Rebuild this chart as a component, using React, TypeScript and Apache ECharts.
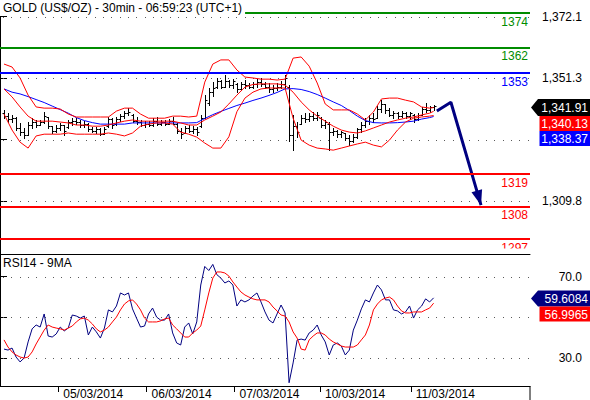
import React, { useEffect, useRef } from 'react';
import * as echarts from 'echarts';

const FONT = "'Liberation Sans', Arial, Helvetica, sans-serif";

const titleText = 'GOLD (US$/OZ) - 30min - 06:59:23 (UTC+1)';
const rsiTitle = 'RSI14 - 9MA';

// OHLC bars (bar index 1..108)
const opens = [
  1339.5, 1338.5, 1337.5, 1338, 1334.5, 1333, 1332, 1335.5, 1336.5, 1335.5,
  1336.5, 1338.2, 1335, 1333.5, 1334.5, 1335.5, 1334.8, 1336.5, 1337, 1336.5,
  1335.5, 1336, 1334, 1333.5, 1334, 1332.5, 1335, 1337.5, 1335.8, 1337.5,
  1338.5, 1339.5, 1339, 1337, 1336.5, 1335.5, 1336, 1335.5, 1337, 1336,
  1336.5, 1336, 1337, 1336, 1333.5, 1332.8, 1334.5, 1333.5, 1334, 1335,
  1338, 1343, 1346.5, 1348.5, 1350.5, 1348.5, 1350.5, 1349, 1349.5, 1347.5,
  1349.5, 1349, 1348.5, 1349.5, 1350, 1349.5, 1348.5, 1347.5, 1348, 1348.5,
  1349.5, 1348.5, 1332, 1335, 1336, 1338, 1337.5, 1338.5, 1338, 1338,
  1335.5, 1336, 1333, 1333.5, 1332.5, 1332.8, 1331, 1330, 1331.5, 1334,
  1335.5, 1337, 1338, 1338, 1341, 1342.5, 1340.5, 1339, 1339.5, 1338.5,
  1339.5, 1338.5, 1339, 1337.5, 1339, 1341, 1340.5, 1341.5,
];
const closes = [
  1338.5, 1337.5, 1338, 1334.5, 1333, 1332, 1335.5, 1336.5, 1335.5, 1336.5,
  1338.5, 1335, 1333.5, 1334.5, 1335.5, 1333.5, 1336.5, 1337, 1336.5, 1335.5,
  1336, 1334, 1333.5, 1334, 1332.5, 1334, 1337.5, 1335.5, 1337.5, 1338.5,
  1339.5, 1340, 1337, 1336.5, 1335.5, 1336, 1335.5, 1337, 1336, 1336.5,
  1336, 1337, 1336, 1333.5, 1332.5, 1334.5, 1333.5, 1334, 1333, 1338,
  1344, 1346.5, 1348, 1350.5, 1348.5, 1350.5, 1349, 1350.5, 1347.5, 1349.5,
  1349, 1348.5, 1349.5, 1350, 1349.5, 1348.5, 1347.5, 1348, 1348.5, 1349.5,
  1351.5, 1332, 1335, 1333, 1338, 1337.5, 1338.5, 1338, 1339, 1335.5,
  1336.5, 1333, 1333.5, 1332.5, 1333, 1331, 1330, 1331.5, 1334, 1335.5,
  1337, 1338, 1337.5, 1341, 1342.5, 1340.5, 1339, 1339.5, 1338.5, 1339.5,
  1338.5, 1339.5, 1337.5, 1339, 1341, 1340.5, 1341.5, 1341.91,
];
const lows = [
  1337.8, 1336.5, 1336.5, 1333.8, 1332.1, 1331.1, 1332.1, 1334.5, 1334.8, 1335.5,
  1336.2, 1334.5, 1332.8, 1333.1, 1333.8, 1332.1, 1334.5, 1335.5, 1335.8, 1334.8,
  1334.8, 1333.5, 1333.1, 1332.8, 1332.1, 1332.4, 1334.8, 1334.5, 1335.5, 1336.8,
  1337.8, 1338.9, 1336.5, 1335.8, 1335.1, 1334.8, 1335.1, 1335.1, 1335.5, 1335.5,
  1335.5, 1335.8, 1335.8, 1332.8, 1331.1, 1332.8, 1333.1, 1332.8, 1332.1, 1334.8,
  1337.8, 1342.2, 1345.3, 1348.0, 1348.0, 1348.3, 1348.3, 1348.0, 1346.6, 1347.3,
  1348.0, 1348.0, 1348.0, 1348.3, 1348.7, 1348.0, 1346.6, 1346.6, 1347.3, 1348.0,
  1348.0, 1330.0, 1327.0, 1331.4, 1335.8, 1336.5, 1336.8, 1337.2, 1337.2, 1334.8,
  1334.5, 1327.0, 1332.1, 1331.4, 1331.4, 1330.4, 1328.7, 1329.7, 1331.1, 1333.1,
  1334.8, 1335.8, 1336.5, 1337.8, 1339.9, 1339.5, 1338.5, 1337.8, 1337.8, 1338.2,
  1337.8, 1337.5, 1336.5, 1337.2, 1338.9, 1339.9, 1339.9, 1340.6,
];
const highs = [
  1340.6, 1339.5, 1338.9, 1338.2, 1336.2, 1334.5, 1336.5, 1337.8, 1337.2, 1337.2,
  1339.9, 1338.2, 1335.1, 1335.5, 1336.2, 1335.5, 1337.2, 1337.8, 1337.8, 1337.2,
  1336.8, 1336.2, 1334.8, 1334.8, 1334.5, 1334.8, 1338.2, 1337.8, 1338.2, 1339.2,
  1340.2, 1341.2, 1339.2, 1338.2, 1337.2, 1336.8, 1336.8, 1337.8, 1338.2, 1337.2,
  1337.2, 1337.5, 1338.2, 1336.2, 1334.5, 1335.1, 1335.5, 1335.1, 1334.8, 1338.9,
  1345.6, 1348.0, 1350.0, 1351.4, 1350.7, 1352.4, 1350.7, 1351.0, 1349.7, 1350.0,
  1350.7, 1349.7, 1350.0, 1351.0, 1351.4, 1350.0, 1349.7, 1349.0, 1349.7, 1350.4,
  1352.4, 1349.0, 1338.9, 1336.5, 1338.9, 1339.5, 1339.5, 1339.9, 1339.9, 1338.2,
  1337.2, 1336.5, 1334.5, 1333.8, 1333.5, 1332.8, 1332.1, 1332.4, 1334.5, 1336.5,
  1337.8, 1338.9, 1339.5, 1341.9, 1343.9, 1342.6, 1341.2, 1340.2, 1339.9, 1340.2,
  1339.9, 1339.9, 1339.2, 1339.5, 1341.6, 1342.9, 1341.9, 1342.2,
];

// Overlays sampled every 2 bars (1,3,...,107) plus the last bar (108)
const bbUpper = [
  1356.1, 1355.1, 1351.4, 1345.6, 1341.6, 1341.2, 1341.2, 1340.9, 1339.2, 1338.2,
  1338.2, 1338.2, 1338.2, 1338.2, 1340.2, 1341.2, 1341.2, 1339.2, 1337.8, 1337.8,
  1337.8, 1338.5, 1338.5, 1338.2, 1338.5, 1350.0, 1356.1, 1357.5, 1357.5, 1354.1,
  1351.7, 1351.4, 1351.0, 1351.0, 1350.7, 1351.0, 1358.1, 1358.5, 1355.4, 1349.7,
  1342.6, 1340.6, 1340.6, 1340.6, 1339.2, 1337.2, 1339.9, 1344.3, 1344.6, 1344.6,
  1343.9, 1343.3, 1341.6, 1341.2, 1341.4,
];
const bbMiddle = [
  1347.7, 1345.0, 1341.6, 1338.5, 1336.8, 1336.8, 1336.8, 1336.5, 1336.2, 1335.5,
  1335.5, 1335.1, 1335.1, 1335.5, 1336.2, 1336.8, 1337.2, 1336.8, 1336.8, 1336.8,
  1336.8, 1336.8, 1336.2, 1335.5, 1335.5, 1337.2, 1338.5, 1339.9, 1342.6, 1345.6,
  1348.3, 1349.2, 1349.4, 1349.4, 1349.4, 1349.0, 1346.6, 1343.3, 1340.6, 1338.5,
  1336.8, 1335.1, 1333.8, 1333.1, 1332.8, 1333.5, 1334.5, 1335.5, 1336.5, 1337.2,
  1337.8, 1338.2, 1338.9, 1339.5, 1340.13,
];
const bbLower = [
  1339.2, 1333.8, 1329.7, 1327.7, 1331.8, 1332.4, 1332.4, 1332.4, 1332.8, 1332.4,
  1332.4, 1332.4, 1332.4, 1332.8, 1332.4, 1331.8, 1332.8, 1335.1, 1335.8, 1336.2,
  1336.2, 1335.8, 1333.1, 1332.4, 1331.4, 1329.4, 1327.7, 1327.7, 1331.5, 1340.0,
  1344.6, 1346.6, 1347.7, 1348.0, 1348.0, 1348.0, 1337.8, 1330.4, 1328.7, 1327.7,
  1327.4, 1327.0, 1327.7, 1328.4, 1329.1, 1329.7, 1328.7, 1328.1, 1330.4, 1333.8,
  1336.5, 1337.8, 1338.2, 1338.5, 1338.7,
];
const maBlue = [
  1347.7, 1346.6, 1346.0, 1345.1, 1344.1, 1343.1, 1341.9, 1340.7, 1339.5, 1338.0,
  1337.0, 1336.3, 1335.8, 1335.8, 1335.8, 1335.8, 1336.2, 1336.2, 1336.2, 1336.2,
  1336.2, 1336.2, 1336.2, 1336.2, 1336.3, 1337.7, 1339.0, 1340.1, 1341.1, 1342.1,
  1342.9, 1343.8, 1344.6, 1345.5, 1346.5, 1347.7, 1347.8, 1347.5, 1346.8, 1345.8,
  1344.6, 1343.3, 1342.1, 1340.4, 1338.5, 1337.0, 1336.3, 1336.2, 1336.2, 1336.3,
  1336.5, 1336.8, 1337.5, 1338.0, 1338.37,
];

// RSI(14) and its 9-period MA, one value per bar
const rsi = [
  34.5, 34.0, 35.0, 30.6, 28.2, 30.1, 38.0, 44.4, 46.3, 45.3,
  51.7, 40.9, 40.4, 41.9, 45.3, 43.4, 44.8, 51.2, 50.7, 49.7,
  50.7, 41.4, 45.3, 42.9, 39.9, 44.8, 53.7, 52.7, 55.6, 62.0,
  61.0, 62.0, 54.2, 49.7, 45.3, 45.8, 51.7, 54.6, 50.2, 48.7,
  48.7, 51.7, 42.4, 37.5, 36.5, 45.3, 47.3, 41.9, 47.8, 65.9,
  75.0, 73.0, 76.0, 71.0, 69.3, 66.9, 67.9, 65.9, 55.6, 58.6,
  57.6, 58.6, 60.5, 62.0, 57.6, 52.7, 48.7, 47.3, 51.7, 56.1,
  52.2, 18.0, 27.7, 38.9, 39.4, 38.9, 42.4, 43.8, 46.3, 41.4,
  38.0, 31.6, 36.5, 37.5, 36.0, 31.6, 34.0, 43.8, 48.7, 54.2,
  58.6, 57.6, 62.0, 65.9, 63.5, 58.6, 58.6, 53.7, 53.2, 51.7,
  52.7, 55.6, 49.7, 53.7, 55.6, 59.1, 57.6, 59.6084,
];
const rsiMa = [
  39.0, 35.5, 33.1, 31.6, 30.6, 30.1, 30.6, 33.1, 37.0, 40.4,
  43.8, 46.3, 45.3, 44.8, 44.4, 43.8, 44.8, 45.8, 47.8, 49.3,
  49.7, 48.7, 46.8, 44.4, 42.9, 43.8, 45.3, 47.8, 50.2, 53.7,
  56.6, 58.1, 58.6, 56.6, 53.7, 49.7, 47.8, 47.8, 47.8, 48.3,
  49.3, 49.7, 46.3, 44.4, 42.4, 40.4, 40.4, 42.4, 43.8, 45.8,
  53.7, 62.0, 69.3, 72.3, 72.3, 71.8, 70.3, 67.4, 64.9, 62.5,
  61.0, 60.0, 59.1, 58.6, 58.6, 58.6, 57.6, 55.1, 53.2, 51.2,
  50.7, 47.8, 42.9, 39.9, 34.5, 34.0, 39.0, 40.9, 42.4, 42.4,
  41.4, 39.4, 38.0, 37.0, 36.0, 35.5, 35.5, 35.5, 36.5, 39.0,
  41.4, 46.3, 53.7, 56.6, 58.6, 59.5, 60.0, 58.6, 55.6, 53.2,
  52.2, 52.2, 52.7, 52.7, 52.7, 53.7, 54.6, 56.9965,
];

// Axis ticks / labels
const dayStarts = [14.5, 36.5, 58.4, 79.7, 102.3];
const dayLabels = ['05/03/2014', '06/03/2014', '07/03/2014', '10/03/2014', '11/03/2014'];
const priceTicks = [1372.1, 1351.3, 1330.55, 1309.8];
const priceLabels = [1372.1, 1351.3, 1309.8];
const rsiTicks = [70, 50, 30];
const rsiLabels = [70, 30];

// Support / resistance levels
const levels = [1373.5, 1361.7, 1353, 1319, 1308, 1297];
const levelLabels = ['1374', '1362', '1353', '1319', '1308', '1297'];
const levelKinds = ['g', 'g', 'b', 'r', 'r', 'r'];

// Projection arrow (bar index, price)
const projection = [[108.8, 1340.2], [112.3, 1343.2], [119.8, 1308.4]];

const GREEN = '#008c00';
const BLUE = '#0000ff';
const RED = '#ff0000';
const NAVY = '#000080';
const kindColor: Record<string, string> = { g: GREEN, b: BLUE, r: RED };

const X_MIN = 0;
const X_MAX = 132;

const fmt = (v: number, d: number) =>
  v.toLocaleString('en-US', { minimumFractionDigits: d, maximumFractionDigits: d });

const bandX = (k: number, n: number) => (k < n - 1 ? 1 + 2 * k : 108);

export default function App() {
  const ref = useRef<HTMLDivElement>(null);
  useEffect(() => {
    if (!ref.current) return;
    const chart = echarts.init(ref.current, undefined, { renderer: 'svg' });

    const ohlc = opens.map((o, i) => [i + 1, o, closes[i], lows[i], highs[i]]);
    const toBand = (arr: number[]) => arr.map((v, k) => [bandX(k, arr.length), v]);
    const lastClose = closes[closes.length - 1];
    const lastMid = bbMiddle[bbMiddle.length - 1];
    const lastBlue = maBlue[maBlue.length - 1];
    const lastRsi = rsi[rsi.length - 1];
    const lastRsiMa = rsiMa[rsiMa.length - 1];

    const axisText = { fontFamily: FONT, fontSize: 12, color: '#000' };

    // Dotted horizontal grid lines drawn as pixel dots along each tick value
    const gridSeries = (vals: number[], axisIdx: number) => ({
      type: 'custom', xAxisIndex: axisIdx, yAxisIndex: axisIdx, silent: true, z: 1,
      data: vals.map((v) => [X_MIN, v]),
      encode: { x: 0, y: 1 },
      renderItem: (params: any, api: any) => {
        const a = api.coord([X_MIN, api.value(1)]);
        const b = api.coord([X_MAX, api.value(1)]);
        const y = Math.round(a[1]);
        const dots: any[] = [];
        for (let x = a[0] + 3; x < b[0] - 1; x += 8.33) {
          dots.push({ type: 'rect', shape: { x: Math.round(x), y, width: 1, height: 1 }, style: { fill: '#5a5a5a' } });
        }
        return { type: 'group', children: dots };
      },
    });

    const option: any = {
      animation: false,
      backgroundColor: '#fff',
      textStyle: { fontFamily: FONT },
      title: [
        {
          text: titleText, left: 0, top: 0, padding: [1, 3, 1, 3], backgroundColor: '#fff',
          textStyle: { fontFamily: FONT, fontSize: 12, fontWeight: 'normal', color: '#000', lineHeight: 14 },
        },
        {
          text: rsiTitle, left: 0, top: 255, padding: [1, 3, 1, 3],
          textStyle: { fontFamily: FONT, fontSize: 12, fontWeight: 'normal', color: '#000', lineHeight: 14 },
        },
      ],
      grid: [
        { left: 0, top: 0, width: 530, height: 254 },
        { left: 0, top: 254, width: 530, height: 132 },
      ],
      xAxis: [
        {
          type: 'value', gridIndex: 0, min: X_MIN, max: X_MAX,
          axisLine: { show: true, onZero: false, lineStyle: { color: '#000' } },
          axisTick: { show: false }, axisLabel: { show: false }, splitLine: { show: false },
        },
        {
          type: 'value', gridIndex: 1, min: X_MIN, max: X_MAX,
          axisLine: { show: true, onZero: false, lineStyle: { color: '#000' } },
          axisTick: { show: true, customValues: dayStarts, length: 6, lineStyle: { color: '#000' } },
          axisLabel: {
            ...axisText, customValues: dayStarts, align: 'left', margin: 2, padding: [0, 0, 0, 5],
            formatter: (v: number) => { const k = dayStarts.indexOf(v); return k >= 0 ? dayLabels[k] : ''; },
          },
          splitLine: { show: false },
        },
      ],
      yAxis: [
        {
          type: 'value', gridIndex: 0, position: 'right', min: 1291.9, max: 1377.75,
          axisLine: { show: true, lineStyle: { color: '#000' } },
          axisTick: { show: true, customValues: priceTicks, length: 7, lineStyle: { color: '#000' } },
          axisLabel: { ...axisText, customValues: priceLabels, align: 'right', margin: 52, formatter: (v: number) => fmt(v, 1) },
          splitLine: { show: false },
        },
        {
          type: 'value', gridIndex: 1, position: 'right', min: 16.4, max: 81.1,
          axisLine: { show: true, lineStyle: { color: '#000' } },
          axisTick: { show: true, customValues: rsiTicks, length: 7, lineStyle: { color: '#000' } },
          axisLabel: { ...axisText, customValues: rsiLabels, align: 'right', margin: 52, formatter: (v: number) => fmt(v, 1) },
          splitLine: { show: false },
        },
      ],
      series: [
        gridSeries(priceTicks, 0),
        gridSeries(rsiTicks, 1),
        {
          type: 'custom', xAxisIndex: 0, yAxisIndex: 0, data: ohlc,
          encode: { x: 0, y: [1, 2, 3, 4] },
          renderItem: (params: any, api: any) => {
            const x = api.value(0);
            const pO = api.coord([x, api.value(1)]);
            const pC = api.coord([x, api.value(2)]);
            const pL = api.coord([x, api.value(3)]);
            const pH = api.coord([x, api.value(4)]);
            const cx = Math.round(pO[0]) + 0.5;
            const st = { stroke: '#000', lineWidth: 1 };
            const yo = Math.round(pO[1]) + 0.5;
            const yc = Math.round(pC[1]) + 0.5;
            return {
              type: 'group',
              children: [
                { type: 'line', shape: { x1: cx, y1: Math.round(pH[1]), x2: cx, y2: Math.round(pL[1]) + 1 }, style: st },
                { type: 'line', shape: { x1: cx - 2, y1: yo, x2: cx, y2: yo }, style: st },
                { type: 'line', shape: { x1: cx, y1: yc, x2: cx + 2, y2: yc }, style: st },
              ],
            };
          },
        },
        {
          type: 'line', xAxisIndex: 0, yAxisIndex: 0, data: toBand(maBlue), symbol: 'none',
          lineStyle: { color: BLUE, width: 1 },
          markLine: {
            silent: true, symbol: ['none', 'none'],
            data: levels.map((v, i) => ({
              yAxis: v,
              lineStyle: { color: kindColor[levelKinds[i]], width: 2, type: 'solid' },
              label: {
                show: true, position: 'insideEndBottom', formatter: levelLabels[i],
                color: kindColor[levelKinds[i]], fontFamily: FONT, fontSize: 12, distance: [2, 3],
              },
            })),
          },
        },
        { type: 'line', xAxisIndex: 0, yAxisIndex: 0, data: toBand(bbUpper), symbol: 'none', lineStyle: { color: RED, width: 1 } },
        { type: 'line', xAxisIndex: 0, yAxisIndex: 0, data: toBand(bbMiddle), symbol: 'none', lineStyle: { color: RED, width: 1 } },
        { type: 'line', xAxisIndex: 0, yAxisIndex: 0, data: toBand(bbLower), symbol: 'none', lineStyle: { color: RED, width: 1 } },
        {
          type: 'line', xAxisIndex: 0, yAxisIndex: 0, data: projection, symbol: 'none',
          lineStyle: { color: NAVY, width: 3 },
        },
        {
          type: 'custom', xAxisIndex: 0, yAxisIndex: 0,
          data: [[projection[1][0], projection[1][1], projection[2][0], projection[2][1]]],
          encode: { x: [0, 2], y: [1, 3] },
          renderItem: (params: any, api: any) => {
            const a = api.coord([api.value(0), api.value(1)]);
            const b = api.coord([api.value(2), api.value(3)]);
            const dx = b[0] - a[0];
            const dy = b[1] - a[1];
            const len = Math.hypot(dx, dy);
            const ux = dx / len, uy = dy / len;
            const L = 15, W = 5.5;
            const bx = b[0] - ux * L, by = b[1] - uy * L;
            return {
              type: 'polygon',
              shape: { points: [[b[0], b[1]], [bx - uy * W, by + ux * W], [bx + uy * W, by - ux * W]] },
              style: { fill: NAVY },
            };
          },
        },
        {
          type: 'line', xAxisIndex: 1, yAxisIndex: 1, data: rsi.map((v, i) => [i + 1, v]), symbol: 'none',
          lineStyle: { color: NAVY, width: 1 },
        },
        {
          type: 'line', xAxisIndex: 1, yAxisIndex: 1, data: rsiMa.map((v, i) => [i + 1, v]), symbol: 'none',
          lineStyle: { color: RED, width: 1 },
        },
      ],
      graphic: [
        { type: 'rect', z: 100, shape: { x: 488, y: 248.5, width: 41.5, height: 5 }, style: { fill: '#fff' } },
        { type: 'line', z: 100, shape: { x1: 530, y1: 386, x2: 530, y2: 400 }, style: { stroke: '#000', lineWidth: 1 } },
        { type: 'polygon', z: 100, shape: { points: [[531, 107.5], [538, 99], [590, 99], [590, 116], [538, 116]] }, style: { fill: '#000' } },
        { type: 'text', z: 101, x: 588, y: 108, style: { text: fmt(lastClose, 2), fill: '#fff', font: `12px ${FONT}`, align: 'right', verticalAlign: 'middle' } },
        { type: 'rect', z: 100, shape: { x: 539.5, y: 116, width: 51, height: 15 }, style: { fill: RED } },
        { type: 'text', z: 101, x: 588, y: 124, style: { text: fmt(lastMid, 2), fill: '#fff', font: `12px ${FONT}`, align: 'right', verticalAlign: 'middle' } },
        { type: 'rect', z: 100, shape: { x: 539.5, y: 131, width: 51, height: 15 }, style: { fill: BLUE } },
        { type: 'text', z: 101, x: 588, y: 139, style: { text: fmt(lastBlue, 2), fill: '#fff', font: `12px ${FONT}`, align: 'right', verticalAlign: 'middle' } },
        { type: 'polygon', z: 100, shape: { points: [[531, 298.5], [538, 290.5], [590, 290.5], [590, 306.5], [538, 306.5]] }, style: { fill: NAVY } },
        { type: 'text', z: 101, x: 588, y: 299, style: { text: fmt(lastRsi, 4), fill: '#fff', font: `12px ${FONT}`, align: 'right', verticalAlign: 'middle' } },
        { type: 'rect', z: 100, shape: { x: 539.5, y: 306.5, width: 51, height: 15 }, style: { fill: RED } },
        { type: 'text', z: 101, x: 588, y: 314.5, style: { text: fmt(lastRsiMa, 4), fill: '#fff', font: `12px ${FONT}`, align: 'right', verticalAlign: 'middle' } },
      ],
    };
    chart.setOption(option);
    return () => chart.dispose();
  }, []);
  return (
    <div
      ref={ref}
      style={{ position: 'fixed', left: 0, top: 0, width: 590, height: 400, background: '#fff' }}
    />
  );
}
